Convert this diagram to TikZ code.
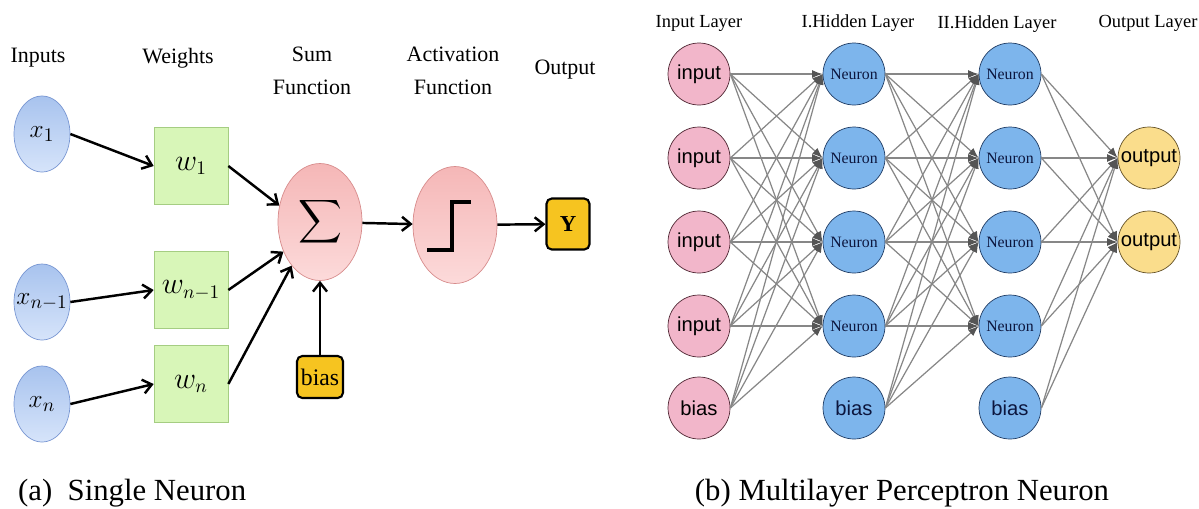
\documentclass[tikz,border=0pt]{standalone}
\usepackage{amsmath}
\usepackage{fontspec}
\setmainfont{Liberation Serif}
\newfontfamily\arialfont{Liberation Sans}
\usepackage{xcolor}
\usepackage{tikz}
\usetikzlibrary{arrows.meta,shapes.geometric}

\definecolor{xtop}{RGB}{168,195,238}
\definecolor{xbottom}{RGB}{214,228,250}
\definecolor{xline}{RGB}{120,150,210}
\definecolor{wfill}{RGB}{216,246,184}
\definecolor{wline}{RGB}{165,205,130}
\definecolor{ftop}{RGB}{245,183,183}
\definecolor{fbottom}{RGB}{252,218,218}
\definecolor{fline}{RGB}{215,140,140}
\definecolor{gold}{RGB}{246,196,32}
\definecolor{pinkfill}{RGB}{242,182,202}
\definecolor{pinkline}{RGB}{80,40,52}
\definecolor{neuronfill}{RGB}{125,181,236}
\definecolor{neuronline}{RGB}{32,60,100}
\definecolor{neurontext}{RGB}{12,22,62}
\definecolor{outfill}{RGB}{250,221,140}
\definecolor{outline}{RGB}{100,82,40}
\definecolor{linkgray}{RGB}{135,135,135}
\definecolor{tipgray}{RGB}{85,85,85}

\tikzset{
  coltitle/.style={align=center, font=\fontsize{12.5}{19}\selectfont},
  xnode/.style={ellipse, draw=xline, top color=xtop, bottom color=xbottom,
    minimum width=1.12cm, minimum height=1.52cm, inner sep=0pt,
    font=\fontsize{15}{17}\selectfont},
  wbox/.style={rectangle, draw=wline, fill=wfill, minimum width=1.48cm,
    minimum height=1.54cm, inner sep=0pt, font=\fontsize{16}{18}\selectfont},
  func/.style={ellipse, draw=fline, top color=ftop, bottom color=fbottom,
    minimum width=1.68cm, minimum height=2.34cm, inner sep=0pt},
  goldbox/.style={rectangle, rounded corners=3pt, draw=black, line width=1.2pt,
    fill=gold, inner sep=0pt},
  conn/.style={line width=1.4pt, -{Straight Barb[length=5pt,width=8pt]}},
  ipt/.style={circle, draw=pinkline, fill=pinkfill, minimum size=1.24cm,
    inner sep=0pt, font=\arialfont\fontsize{11.5}{13}\selectfont},
  neuron/.style={circle, draw=neuronline, fill=neuronfill, minimum size=1.24cm,
    inner sep=0pt, text=neurontext, font=\fontsize{9}{10}\selectfont},
  hbias/.style={neuron, font=\arialfont\fontsize{11.5}{13}\selectfont},
  opt/.style={circle, draw=outline, fill=outfill, minimum size=1.24cm,
    inner sep=0pt, font=\arialfont\fontsize{11.5}{13}\selectfont},
  link/.style={draw=linkgray, line width=0.7pt,
    -{Latex[length=6pt,width=4.5pt,color=tipgray]}},
  layertitle/.style={font=\fontsize{10.5}{12}\selectfont},
  subcap/.style={anchor=west, font=\fontsize{17.5}{20}\selectfont}
}

\begin{document}
\begin{tikzpicture}[x=0.02cm, y=-0.02cm]
\useasboundingbox (0,0) rectangle (1199,508);

% (a) single neuron
\node[coltitle] (tin) at (38,58) {Inputs};
\node[coltitle] (tw) at (178,58) {Weights};
\node[coltitle] (tsum) at (312,71) {Sum\\Function};
\node[coltitle] (tact) at (453,71) {Activation\\Function};
\node[coltitle] (tout) at (565,70) {Output};

\node[xnode] (x1) at (42,134) {$x_1$};
\node[xnode] (xn1) at (42,302) {\makebox[0pt]{$x_{n-1}$}};
\node[xnode] (xn) at (42,404) {$x_n$};

\node[wbox] (w1) at (191,166) {$w_1$};
\node[wbox] (wn1) at (191,290) {$w_{n-1}$};
\node[wbox] (wn) at (191,384) {$w_n$};

\node[func, font=\fontsize{16.5}{18}\selectfont] (sum) at (320,222) {$\displaystyle\sum$};
\node[func] (act) at (455,225) {};
\draw[line width=2.3pt] (427,250) -- (452,250) -- (452,202) -- (471,202);

\node[goldbox, minimum width=0.86cm, minimum height=1.02cm,
  font=\bfseries\fontsize{13}{15}\selectfont] (y) at (568,224) {Y};
\node[goldbox, minimum width=0.92cm, minimum height=0.84cm,
  font=\fontsize{13.5}{15}\selectfont] (bias) at (320,377) {bias};

\draw[conn] (x1.east) -- (w1.west);
\draw[conn] (xn1.east) -- (wn1.west);
\draw[conn] (xn.east) -- (wn.west);
\draw[conn] (w1.east) -- (sum.158);
\draw[conn] (wn1.east) -- (sum.219);
\draw[conn] (wn.east) -- (sum.237);
\draw[conn] (bias) -- (sum);
\draw[conn] (sum) -- (act);
\draw[conn] (act) -- (y);

\node[subcap] (capa) at (12,493) {(a)\ \ Single Neuron};

% (b) multilayer perceptron
\node[layertitle] (lin) at (699,23) {Input Layer};
\node[layertitle] (lha) at (858,23) {I.Hidden Layer};
\node[layertitle] (lhb) at (997,24) {II.Hidden Layer};
\node[layertitle] (lout) at (1148,23) {Output Layer};

\node[ipt] (in1) at (699,74) {input};
\node[ipt] (in2) at (699,158) {input};
\node[ipt] (in3) at (699,242) {input};
\node[ipt] (in4) at (699,326) {input};
\node[ipt] (inb) at (699,408) {bias};

\node[neuron] (ha1) at (854,74) {Neuron};
\node[neuron] (ha2) at (854,158) {Neuron};
\node[neuron] (ha3) at (854,242) {Neuron};
\node[neuron] (ha4) at (854,326) {Neuron};
\node[hbias] (hab) at (854,408) {bias};

\node[neuron] (hb1) at (1010,74) {Neuron};
\node[neuron] (hb2) at (1010,158) {Neuron};
\node[neuron] (hb3) at (1010,242) {Neuron};
\node[neuron] (hb4) at (1010,326) {Neuron};
\node[hbias] (hbb) at (1010,408) {bias};

\node[opt] (out1) at (1149,158) {output};
\node[opt] (out2) at (1149,242) {output};

\draw[link] (in1.east) -- (ha1.west);
\draw[link] (in1.east) -- (ha2.west);
\draw[link] (in1.east) -- (ha3.west);
\draw[link] (in1.east) -- (ha4.west);
\draw[link] (in2.east) -- (ha1.west);
\draw[link] (in2.east) -- (ha2.west);
\draw[link] (in2.east) -- (ha3.west);
\draw[link] (in2.east) -- (ha4.west);
\draw[link] (in3.east) -- (ha1.west);
\draw[link] (in3.east) -- (ha2.west);
\draw[link] (in3.east) -- (ha3.west);
\draw[link] (in3.east) -- (ha4.west);
\draw[link] (in4.east) -- (ha1.west);
\draw[link] (in4.east) -- (ha2.west);
\draw[link] (in4.east) -- (ha3.west);
\draw[link] (in4.east) -- (ha4.west);
\draw[link] (inb.east) -- (ha1.west);
\draw[link] (inb.east) -- (ha2.west);
\draw[link] (inb.east) -- (ha3.west);
\draw[link] (inb.east) -- (ha4.west);

\draw[link] (ha1.east) -- (hb1.west);
\draw[link] (ha1.east) -- (hb2.west);
\draw[link] (ha1.east) -- (hb3.west);
\draw[link] (ha1.east) -- (hb4.west);
\draw[link] (ha2.east) -- (hb1.west);
\draw[link] (ha2.east) -- (hb2.west);
\draw[link] (ha2.east) -- (hb3.west);
\draw[link] (ha2.east) -- (hb4.west);
\draw[link] (ha3.east) -- (hb1.west);
\draw[link] (ha3.east) -- (hb2.west);
\draw[link] (ha3.east) -- (hb3.west);
\draw[link] (ha3.east) -- (hb4.west);
\draw[link] (ha4.east) -- (hb1.west);
\draw[link] (ha4.east) -- (hb2.west);
\draw[link] (ha4.east) -- (hb3.west);
\draw[link] (ha4.east) -- (hb4.west);
\draw[link] (hab.east) -- (hb1.west);
\draw[link] (hab.east) -- (hb2.west);
\draw[link] (hab.east) -- (hb3.west);
\draw[link] (hab.east) -- (hb4.west);

\draw[link] (hb1.east) -- (out1.west);
\draw[link] (hb1.east) -- (out2.west);
\draw[link] (hb2.east) -- (out1.west);
\draw[link] (hb2.east) -- (out2.west);
\draw[link] (hb3.east) -- (out1.west);
\draw[link] (hb3.east) -- (out2.west);
\draw[link] (hb4.east) -- (out1.west);
\draw[link] (hb4.east) -- (out2.west);
\draw[link] (hbb.east) -- (out1.west);
\draw[link] (hbb.east) -- (out2.west);

\node[subcap, anchor=center] (capb) at (902,493) {(b) Multilayer Perceptron Neuron};
\end{tikzpicture}
\end{document}
